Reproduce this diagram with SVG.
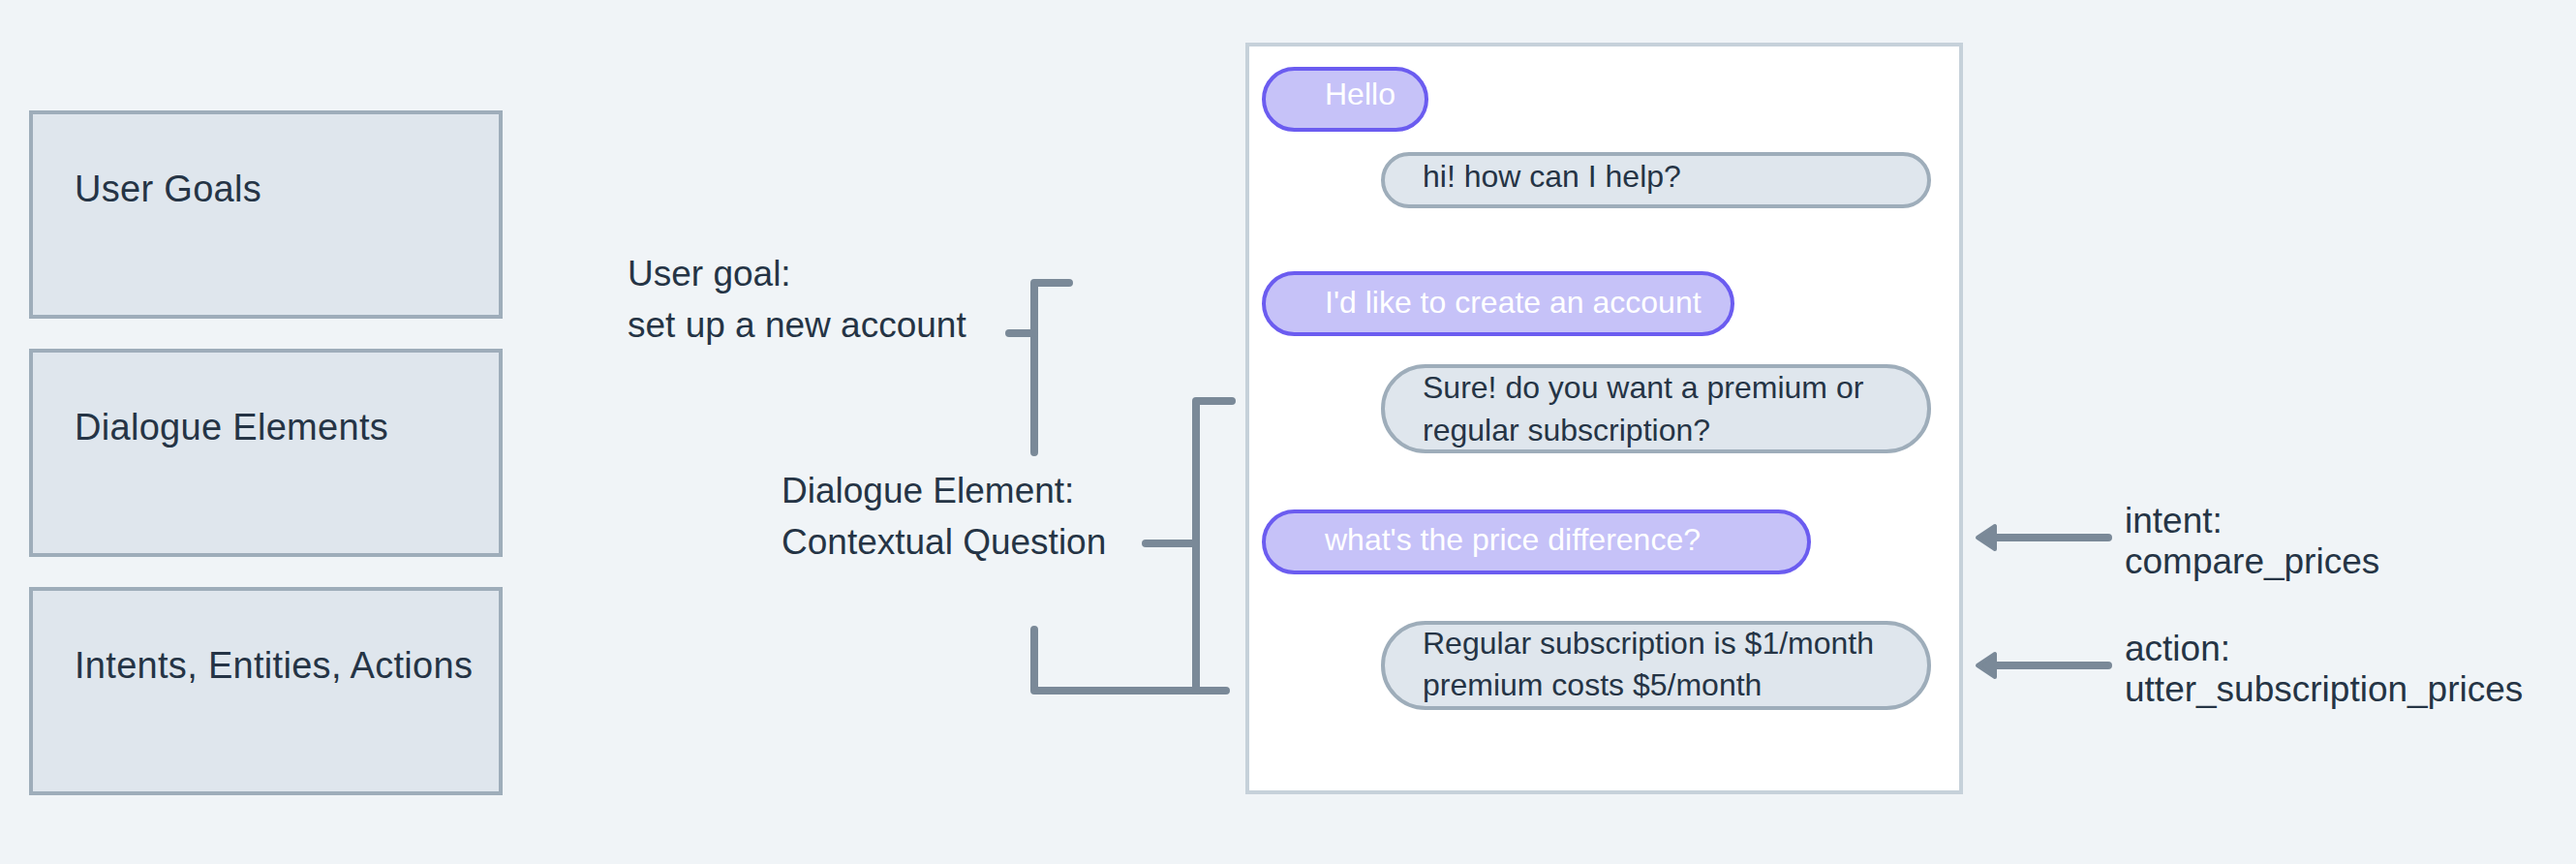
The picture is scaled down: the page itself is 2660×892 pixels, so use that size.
<svg xmlns="http://www.w3.org/2000/svg" width="2660" height="892" viewBox="0 0 2660 892">
<style>
.bg{fill:#f0f4f7}
.cat{fill:#dfe6ed;stroke:#9eadba;stroke-width:4}
.catt{font-family:"Liberation Sans",Arial,sans-serif;font-size:38px;fill:#253445;letter-spacing:0.3px}
.ann{font-family:"Liberation Sans",Arial,sans-serif;font-size:37px;fill:#253445}
.panel{fill:#ffffff;stroke:#c6d1da;stroke-width:4}
.ub{fill:#c6c2f8;stroke:#6b5cf0;stroke-width:4}
.bb{fill:#dfe6ed;stroke:#9eadba;stroke-width:4}
.ut{font-family:"Liberation Sans",Arial,sans-serif;font-size:32px;fill:#ffffff}
.bt{font-family:"Liberation Sans",Arial,sans-serif;font-size:32px;fill:#253445}
.con{fill:none;stroke:#7a8998;stroke-width:8;stroke-linecap:round;stroke-linejoin:round}
.head{fill:#7a8998;stroke:#7a8998;stroke-width:4;stroke-linejoin:round}
</style>
<rect class="bg" x="0" y="0" width="2660" height="892"/>
<g id="user-goals"><rect class="cat" x="32" y="116" width="485" height="211"/><text class="catt" x="77" y="208">User Goals</text></g>
<g id="dialogue-elements"><rect class="cat" x="32" y="362" width="485" height="211"/><text class="catt" x="77" y="454">Dialogue Elements</text></g>
<g id="intents-entities-actions"><rect class="cat" x="32" y="608" width="485" height="211"/><text class="catt" x="77" y="700">Intents, Entities, Actions</text></g>
<g id="label-user-goal"><text class="ann" x="648" y="295">User goal:</text><text class="ann" x="648" y="348">set up a new account</text></g>
<g id="label-dialogue-element"><text class="ann" x="807" y="519">Dialogue Element:</text><text class="ann" x="807" y="572">Contextual Question</text></g>
<g id="chat-panel"><rect class="panel" x="1288" y="46" width="737" height="772"/></g>
<g id="msg-hello"><rect class="ub" x="1305" y="71" width="168" height="63" rx="31.5"/><text class="ut" x="1368" y="108">Hello</text></g>
<g id="msg-hi"><rect class="bb" x="1428" y="159" width="564" height="54" rx="27"/><text class="bt" x="1469" y="193">hi! how can I help?</text></g>
<g id="msg-create"><rect class="ub" x="1305" y="282" width="484" height="63" rx="31.5"/><text class="ut" x="1368" y="323">I'd like to create an account</text></g>
<g id="msg-sure"><rect class="bb" x="1428" y="378" width="564" height="88" rx="44"/><text class="bt" x="1469" y="411">Sure! do you want a premium or</text><text class="bt" x="1469" y="455">regular subscription?</text></g>
<g id="msg-price"><rect class="ub" x="1305" y="528" width="563" height="63" rx="31.5"/><text class="ut" x="1368" y="568">what's the price difference?</text></g>
<g id="msg-regular"><rect class="bb" x="1428" y="643" width="564" height="88" rx="44"/><text class="bt" x="1469" y="675">Regular subscription is $1/month</text><text class="bt" x="1469" y="718">premium costs $5/month</text></g>
<g id="label-intent"><text class="ann" x="2194" y="550">intent:</text><text class="ann" x="2194" y="592">compare_prices</text></g>
<g id="label-action"><text class="ann" x="2194" y="682">action:</text><text class="ann" x="2194" y="724">utter_subscription_prices</text></g>
<g id="connectors">
<path class="con" d="M1104 292 H1068 V467"/>
<path class="con" d="M1042 344 H1068"/>
<path class="con" d="M1068 650 V713 H1266"/>
<path class="con" d="M1272 414 H1235 V713"/>
<path class="con" d="M1183 561 H1235"/>
<path class="con" d="M2177 555 H2058"/>
<polygon class="head" points="2042,555 2060,543 2060,567"/>
<path class="con" d="M2177 687 H2058"/>
<polygon class="head" points="2042,687 2060,675 2060,699"/>
</g>
</svg>
